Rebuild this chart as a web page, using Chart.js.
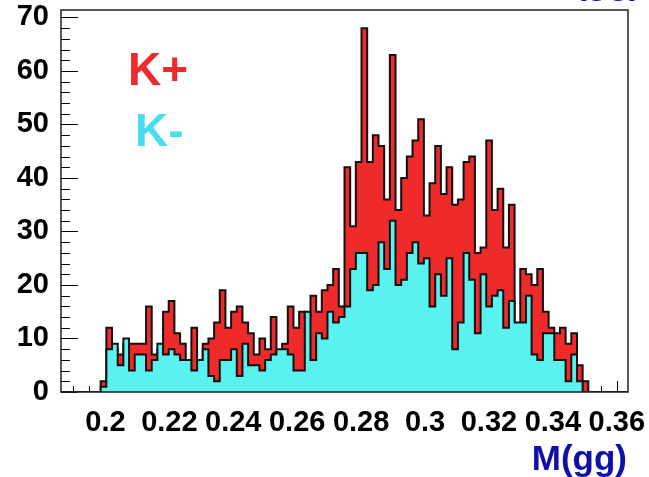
<!DOCTYPE html>
<html><head><meta charset="utf-8">
<script src="https://cdn.jsdelivr.net/npm/chart.js@4.4.0/dist/chart.umd.min.js"></script>
<style>html,body{margin:0;padding:0;background:#fff}#wrap{width:649px;height:477px}</style>
</head><body><div id="wrap"><canvas id="c" width="649" height="477"></canvas></div>
<script>
// ---- data ----
const kPlus = [
  0,0,0,0,0,0,0,2,12,8,
  7,9,9,9,9,16,7,8,15,17,
  11,9,6,12,5,9,10,13,19,12,
  15,16,13,11,7,10,8,14,7,9,
  16,12,15,14,18,15,19,20,23,16,
  42,31,43,68,43,48,46,36,63,34,
  40,44,47,51,33,39,46,37,42,35,
  36,43,44,26,27,47,34,38,27,35,
  12,23,22,20,23,15,12,11,12,9,
  11,5,2,0,0,0,0,0,0,0
];
const kMinus = [
  0,0,0,0,0,0,0,1,8,9,
  5,10,4,7,7,4,6,9,7,8,
  7,6,6,4,6,8,3,2,6,6,
  8,3,9,5,5,4,6,7,8,8,
  7,4,4,15,6,11,10,15,13,14,
  16,23,26,26,19,20,28,23,32,20,
  21,26,28,24,25,16,22,18,25,8,
  13,26,21,11,22,16,18,19,12,17,
  13,13,18,7,6,11,11,6,6,2,
  7,2,0,0,0,0,0,0,0,0
];
const xTickValues = [0.2,0.22,0.24,0.26,0.28,0.3,0.32,0.34,0.36];
const xTickLabels = ["0.2","0.22","0.24","0.26","0.28","0.3","0.32","0.34","0.36"];
const yTickValues = [0,10,20,30,40,50,60,70];
const yTickLabels = ["0","10","20","30","40","50","60","70"];
const legendLabels = ["K+","K-"];
const xAxisTitle = "M(gg)";
const topText = "(gg)";

const X_MIN = 0.1861, X_MAX = 0.3635, N_BINS = 100, Y_MAX = 71.4;
const BIN_W = (X_MAX - X_MIN) / N_BINS;

const RED = 'rgb(238,42,42)';
const CYAN = 'rgb(90,242,238)';
const CYAN_TEXT = 'rgb(72,222,240)';
const BLUE = 'rgb(16,16,168)';
const FONT = '"Liberation Sans", Arial, Helvetica, sans-serif';

function toPoints(arr) {
  const out = arr.map((v, i) => ({ x: X_MIN + i * BIN_W, y: v }));
  out.push({ x: X_MAX, y: 0 });
  return out;
}

function noPad(s) { s.paddingLeft = 0; s.paddingRight = 0; s.paddingTop = 0; s.paddingBottom = 0; }

const frameTicks = {
  id: 'frameTicks',
  beforeDatasetsDraw(chart) {
    const { ctx, chartArea: a, scales: { x, y } } = chart;
    ctx.save();
    ctx.strokeStyle = '#000';
    ctx.lineWidth = 1;
    ctx.beginPath();
    for (let k = 0; k <= 35; k++) {
      const v = k * 2;
      if (v > Y_MAX) break;
      const py = Math.round(y.getPixelForValue(v)) + 0.5;
      const len = (k % 5 === 0) ? 17 : 9;
      ctx.moveTo(a.left, py); ctx.lineTo(a.left + len, py);
    }
    for (let k = 38; k <= 72; k++) {
      const v = k * 0.005;
      if (v < X_MIN || v > X_MAX) continue;
      const px = Math.round(x.getPixelForValue(v)) + 0.5;
      const len = (k % 4 === 0) ? 11 : 6;
      ctx.moveTo(px, a.bottom); ctx.lineTo(px, a.bottom - len);
    }
    ctx.stroke();
    ctx.restore();
  },
  afterDatasetsDraw(chart) {
    const { ctx, chartArea: a } = chart;
    ctx.save();
    ctx.strokeStyle = '#222';
    ctx.lineWidth = 1.5;
    ctx.strokeRect(a.left, a.top, a.right - a.left, a.bottom - a.top);
    ctx.restore();
  },
  afterDraw(chart) {
    const { ctx } = chart;
    ctx.save();
    ctx.textBaseline = 'alphabetic';
    ctx.font = 'bold 46px ' + FONT;
    ctx.textAlign = 'left';
    ctx.fillStyle = RED;
    ctx.fillText(legendLabels[0], 128, 85);
    ctx.fillStyle = CYAN_TEXT;
    ctx.fillText(legendLabels[1], 135, 146);
    ctx.font = 'bold 35px ' + FONT;
    ctx.fillStyle = BLUE;
    ctx.textAlign = 'right';
    ctx.fillText(xAxisTitle, 627, 470);
    ctx.fillText(topText, 641, -6);
    ctx.restore();
  }
};

new Chart(document.getElementById('c'), {
  type: 'line',
  data: {
    datasets: [
      { label: legendLabels[0], data: toPoints(kPlus), stepped: 'before', fill: 'origin',
        backgroundColor: RED, borderColor: '#111', borderWidth: 2, pointRadius: 0, order: 2 },
      { label: legendLabels[1], data: toPoints(kMinus), stepped: 'before', fill: 'origin',
        backgroundColor: CYAN, borderColor: '#111', borderWidth: 2, pointRadius: 0, order: 1 }
    ]
  },
  options: {
    responsive: false, animation: false, devicePixelRatio: 1,
    layout: { padding: { left: 0, right: 21, top: 10, bottom: 0 } },
    plugins: { legend: { display: false }, tooltip: { enabled: false }, title: { display: false } },
    scales: {
      x: {
        type: 'linear', min: X_MIN, max: X_MAX, bounds: 'data',
        grid: { display: false, drawTicks: false }, border: { display: false },
        afterBuildTicks: s => { s.ticks = xTickValues.map(v => ({ value: v })); },
        afterFit: s => { s.height = 85; noPad(s); },
        ticks: { autoSkip: false, maxRotation: 0, minRotation: 0, padding: 14, color: '#000',
          font: { family: FONT, weight: 'bold', size: 29 },
          callback: (v, i) => xTickLabels[i] }
      },
      y: {
        type: 'linear', min: 0, max: Y_MAX, bounds: 'data',
        grid: { display: false, drawTicks: false }, border: { display: false },
        afterBuildTicks: s => { s.ticks = yTickValues.map(v => ({ value: v })); },
        afterFit: s => { s.width = 61; noPad(s); },
        ticks: { autoSkip: false, padding: 12, color: '#000',
          font: { family: FONT, weight: 'bold', size: 29 },
          callback: (v, i) => yTickLabels[i] }
      }
    }
  },
  plugins: [frameTicks]
});
</script>
</body></html>
